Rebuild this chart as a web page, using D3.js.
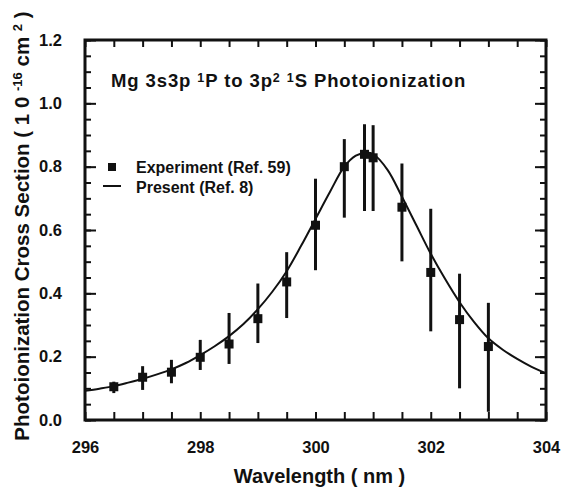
<!DOCTYPE html>
<html><head><meta charset="utf-8">
<script src="https://cdn.jsdelivr.net/npm/d3@7"></script>
<style>
html,body{margin:0;padding:0;background:#fff;}
svg text{font-family:"Liberation Sans",Arial,Helvetica,sans-serif;font-weight:bold;fill:#111;}
</style></head>
<body>
<svg id="chart" width="562" height="489"></svg>
<script>
// Experiment (Ref. 59)
const expWavelength = [296.5, 297.0, 297.5, 298.0, 298.5, 299.0, 299.5, 300.0, 300.5, 300.85, 301.0, 301.5, 302.0, 302.5, 303.0];
const expValue      = [0.105, 0.135, 0.151, 0.198, 0.240, 0.320, 0.436, 0.615, 0.800, 0.839, 0.828, 0.672, 0.466, 0.317, 0.232];
const expHigh       = [0.121, 0.170, 0.190, 0.253, 0.338, 0.431, 0.530, 0.762, 0.887, 0.934, 0.931, 0.810, 0.667, 0.462, 0.370];
const expLow        = [0.085, 0.095, 0.116, 0.158, 0.177, 0.243, 0.322, 0.473, 0.639, 0.660, 0.660, 0.501, 0.280, 0.100, 0.026];
// Present (Ref. 8) theory curve
const theoryWavelength = [296.0, 296.25, 296.5, 296.75, 297.0, 297.25, 297.5, 297.75, 298.0, 298.25, 298.5, 298.75, 299.0, 299.25, 299.5, 299.75, 300.0, 300.25, 300.5, 300.7, 300.9, 301.0, 301.25, 301.5, 301.75, 302.0, 302.25, 302.5, 302.75, 303.0, 303.25, 303.5, 303.75, 304.0];
const theoryValue      = [0.092, 0.099, 0.107, 0.118, 0.130, 0.144, 0.160, 0.180, 0.205, 0.233, 0.265, 0.303, 0.350, 0.405, 0.470, 0.550, 0.635, 0.720, 0.800, 0.835, 0.844, 0.840, 0.790, 0.705, 0.615, 0.525, 0.445, 0.372, 0.310, 0.258, 0.222, 0.193, 0.168, 0.148];
// Axes
const xTickLabels = [296, 298, 300, 302, 304];
const yTickLabels = [0.0, 0.2, 0.4, 0.6, 0.8, 1.0, 1.2];

const svg = d3.select("#chart");
const L = 85, R = 546, T = 40, B = 420;
const x = d3.scaleLinear().domain([296, 304]).range([L, R]);
const y = d3.scaleLinear().domain([0, 1.2]).range([B, T]);

const xMinor = d3.range(296, 304.001, 0.5);
const yMinor = d3.range(0, 1.2001, 0.05);

function strip(g){ g.select(".domain").remove(); g.selectAll(".tick line").attr("stroke","#111").attr("stroke-width",2); }
function styleText(g){ g.selectAll("text").attr("font-size",16.5).style("font-family",'"Liberation Sans",Arial,sans-serif').style("font-weight","bold").attr("fill","#111"); }

// bottom ticks + labels
svg.append("g").attr("transform",`translate(0,${B})`)
  .call(d3.axisBottom(x).tickValues(xMinor).tickSize(-8).tickPadding(21)
    .tickFormat(d => xTickLabels.includes(d) ? d3.format("d")(d) : ""))
  .call(strip).call(styleText);
// top ticks
svg.append("g").attr("transform",`translate(0,${T})`)
  .call(d3.axisTop(x).tickValues(xMinor).tickSize(-7).tickFormat(""))
  .call(strip);
// left minor & major
svg.append("g").attr("transform",`translate(${L},0)`)
  .call(d3.axisLeft(y).tickValues(yMinor).tickSize(-6).tickFormat(""))
  .call(strip);
svg.append("g").attr("transform",`translate(${L},0)`)
  .call(d3.axisLeft(y).tickValues(yTickLabels).tickSize(-11).tickPadding(23).tickFormat(d3.format(".1f")))
  .call(strip).call(styleText);
// right minor & major
svg.append("g").attr("transform",`translate(${R},0)`)
  .call(d3.axisRight(y).tickValues(yMinor).tickSize(-6).tickFormat(""))
  .call(strip);
svg.append("g").attr("transform",`translate(${R},0)`)
  .call(d3.axisRight(y).tickValues(yTickLabels).tickSize(-11).tickFormat(""))
  .call(strip);

// frame
svg.append("rect").attr("x",L).attr("y",T).attr("width",R-L).attr("height",B-T)
  .attr("fill","none").attr("stroke","#111").attr("stroke-width",3);

// theory curve
const theory = theoryWavelength.map((w,i)=>({w, v: theoryValue[i]}));
svg.append("path").datum(theory)
  .attr("fill","none").attr("stroke","#111").attr("stroke-width",2)
  .attr("d", d3.line().x(d=>x(d.w)).y(d=>y(d.v)).curve(d3.curveCatmullRom.alpha(0.5)));

// experiment
const exp = expWavelength.map((w,i)=>({w, v: expValue[i], hi: expHigh[i], lo: expLow[i]}));
svg.append("g").selectAll("line").data(exp).join("line")
  .attr("x1",d=>x(d.w)).attr("x2",d=>x(d.w)).attr("y1",d=>y(d.hi)).attr("y2",d=>y(d.lo))
  .attr("stroke","#111").attr("stroke-width",3);
const S = 9;
svg.append("g").selectAll("rect").data(exp).join("rect")
  .attr("x",d=>x(d.w)-S/2).attr("y",d=>y(d.v)-S/2).attr("width",S).attr("height",S).attr("fill","#111");

// title
const title = svg.append("text").attr("x",111).attr("y",87).attr("font-size",18.5).attr("letter-spacing",0.9);
title.append("tspan").text("Mg  3s3p ");
title.append("tspan").attr("font-size",12.5).attr("dy",-5).text("1");
title.append("tspan").attr("dy",5).text("P  to  3p");
title.append("tspan").attr("font-size",12.5).attr("dy",-5).text("2");
title.append("tspan").attr("dy",5).text("  ");
title.append("tspan").attr("font-size",12.5).attr("dy",-5).text("1");
title.append("tspan").attr("dy",5).text("S  Photoionization");

// legend
svg.append("rect").attr("x",112-4).attr("y",167-4).attr("width",8).attr("height",8).attr("fill","#111");
svg.append("text").attr("x",136).attr("y",173).attr("font-size",16).text("Experiment (Ref. 59)");
svg.append("line").attr("x1",103).attr("x2",121).attr("y1",186).attr("y2",186).attr("stroke","#111").attr("stroke-width",2);
svg.append("text").attr("x",136).attr("y",193).attr("font-size",16).text("Present (Ref. 8)");

// axis titles
svg.append("text").attr("x",(L+R)/2+4).attr("y",483).attr("text-anchor","middle").attr("font-size",20).text("Wavelength ( nm )");
const yl = svg.append("text").attr("transform","translate(29,226) rotate(-90)").attr("text-anchor","middle").attr("font-size",20.5);
yl.append("tspan").text("Photoionization Cross Section ( 1 0 ");
yl.append("tspan").attr("font-size",13).attr("dy",-7).text("-16");
yl.append("tspan").attr("dy",7).text("  cm ");
yl.append("tspan").attr("font-size",13).attr("dy",-7).text("2");
yl.append("tspan").attr("dy",7).text(" )");
</script>
</body></html>
